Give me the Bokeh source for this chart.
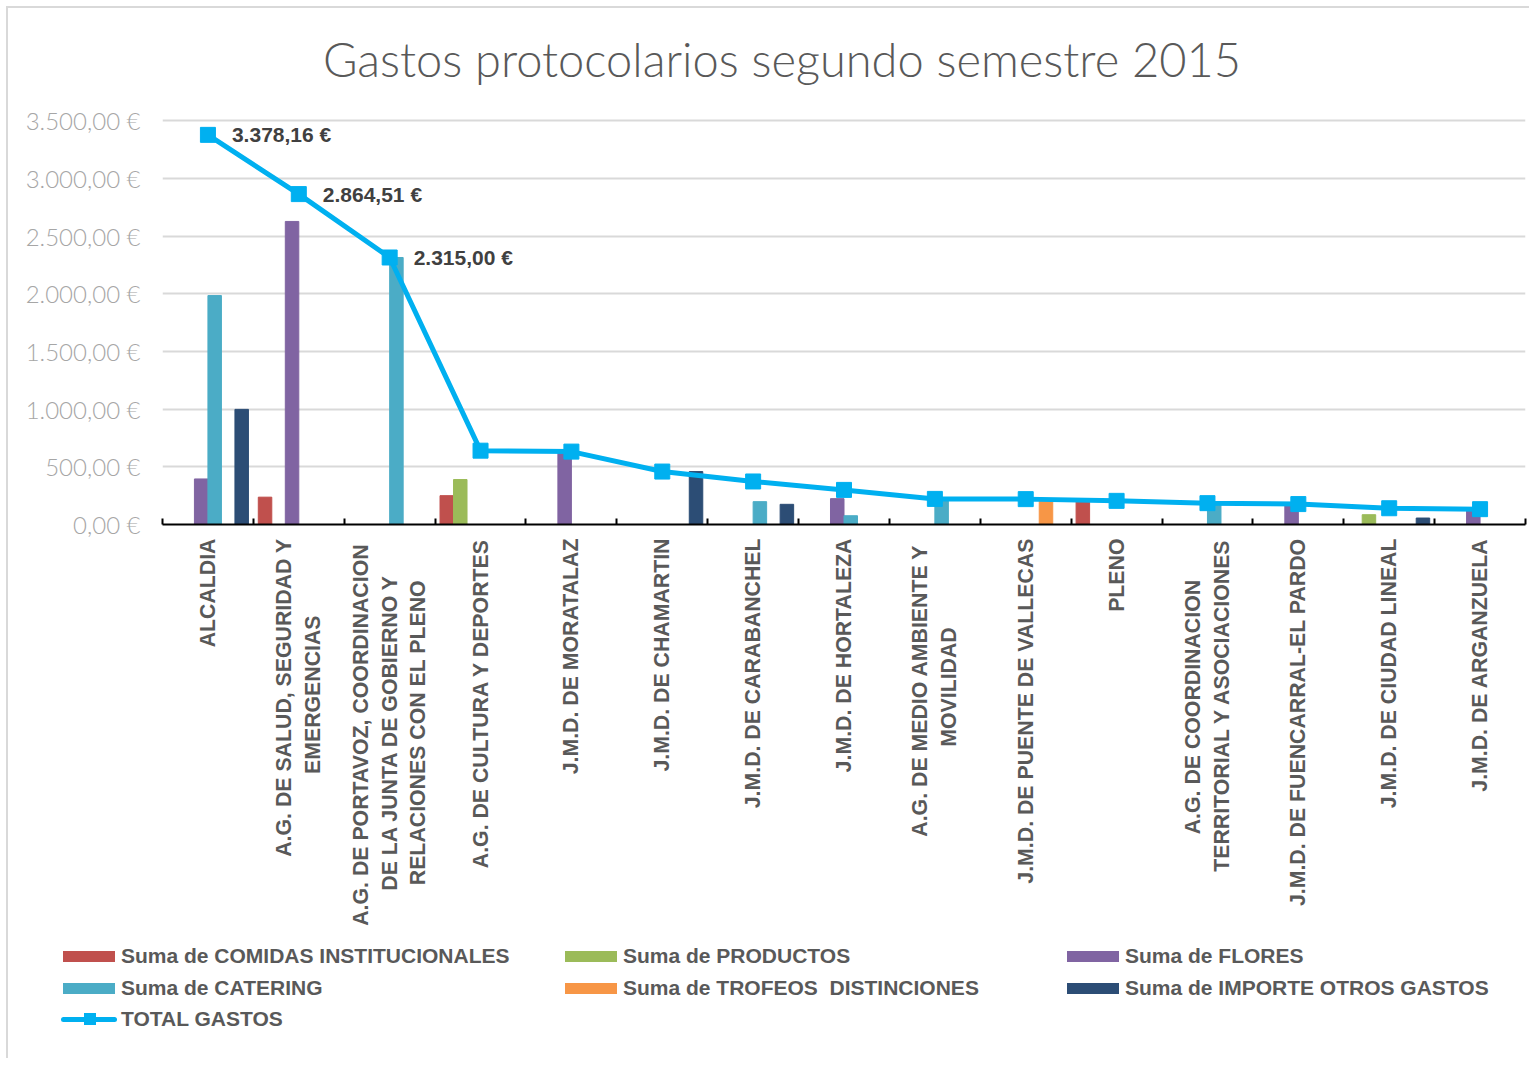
import math
import numpy as np
from bokeh.plotting import figure
from bokeh.layouts import column
from bokeh.models import Range1d, FixedTicker, Div
from bokeh.core.properties import value
from bokeh.embed import file_html
from bokeh.resources import INLINE

# ---------------- data ----------------
categories = [
    "ALCALDIA",
    "A.G. DE SALUD, SEGURIDAD Y\nEMERGENCIAS",
    "A.G. DE PORTAVOZ,  COORDINACION\nDE LA JUNTA DE GOBIERNO Y\nRELACIONES CON EL PLENO",
    "A.G. DE CULTURA Y DEPORTES",
    "J.M.D. DE MORATALAZ",
    "J.M.D. DE CHAMARTIN",
    "J.M.D. DE CARABANCHEL",
    "J.M.D. DE HORTALEZA",
    "A.G.  DE MEDIO AMBIENTE Y\nMOVILIDAD",
    "J.M.D. DE PUENTE DE VALLECAS",
    "PLENO",
    "A.G. DE COORDINACION\nTERRITORIAL Y ASOCIACIONES",
    "J.M.D. DE FUENCARRAL-EL PARDO",
    "J.M.D. DE CIUDAD LINEAL",
    "J.M.D. DE ARGANZUELA",
]

comidas   = [0, 237, 0, 250, 0, 0, 0, 0, 0, 0, 205, 0, 0, 0, 0]
productos = [0, 0, 0, 390, 0, 0, 0, 0, 0, 0, 0, 0, 0, 85, 0]
flores    = [395, 2627.51, 0, 0, 632, 0, 0, 224, 0, 0, 0, 0, 177, 0, 133]
catering  = [1985, 0, 2315, 0, 0, 0, 198, 76, 222, 0, 0, 185, 0, 0, 0]
trofeos   = [0, 0, 0, 0, 0, 0, 0, 0, 0, 220, 0, 0, 0, 0, 0]
otros     = [998.16, 0, 0, 0, 0, 459, 175, 0, 0, 0, 0, 0, 0, 56, 0]
total     = [3378.16, 2864.51, 2315.00, 640, 632, 459, 373, 300, 222, 220, 205, 185, 177, 141, 133]

total_labels = ["3.378,16 €", "2.864,51 €", "2.315,00 €"]

series_names = [
    "Suma de COMIDAS INSTITUCIONALES",
    "Suma de PRODUCTOS",
    "Suma de FLORES",
    "Suma de CATERING",
    "Suma de TROFEOS  DISTINCIONES",
    "Suma de IMPORTE OTROS GASTOS",
]
total_name = "TOTAL GASTOS"

y_ticks = [0, 500, 1000, 1500, 2000, 2500, 3000, 3500]
y_tick_labels = ["0,00 €", "500,00 €", "1.000,00 €", "1.500,00 €",
                 "2.000,00 €", "2.500,00 €", "3.000,00 €", "3.500,00 €"]

title_text = "Gastos protocolarios segundo semestre 2015"

# ---------------- styles ----------------
colors = ["#c0504d", "#9bbb59", "#8064a2", "#4bacc6", "#f79646", "#2c4d75"]
line_color = "#00b0f0"
text_grey = "#595959"
bold_font = value("Liberation Sans")

# approximate Arial-bold advance widths (em) used to centre the lines of the
# multi-line category labels (the axis draws them flush to the axis line)
_w = {" ": .278, ".": .278, ",": .278, "-": .333, "A": .722, "B": .722, "C": .722,
      "D": .722, "E": .667, "F": .611, "G": .778, "H": .722, "I": .278, "J": .556,
      "K": .722, "L": .611, "M": .833, "N": .722, "O": .778, "P": .667, "Q": .778,
      "R": .722, "S": .667, "T": .611, "U": .722, "V": .667, "W": .944, "X": .667,
      "Y": .667, "Z": .611}


def centred(label):
    lines = label.split("\n")
    if len(lines) == 1:
        return label
    widths = [sum(_w.get(ch, .6) for ch in ln) for ln in lines]
    mw = max(widths)
    out = []
    for ln, w in zip(lines, widths):
        pad = int(round((mw - w) / 2 / .278))
        out.append(ln + "\u00a0" * pad)
    return "\n".join(out)


n = len(categories)
centers = np.arange(n) + 0.5
bw = 0.1486

p = figure(width=1521, height=832, output_backend="svg", toolbar_location=None,
           x_range=Range1d(0, n), y_range=Range1d(0, 3520),
           min_border_left=154, min_border_right=4, min_border_top=20,
           min_border_bottom=406, background_fill_color="white",
           border_fill_color="white")
p.outline_line_color = None

# y axis
p.yaxis.ticker = FixedTicker(ticks=y_ticks)
p.yaxis.major_label_overrides = {t: l for t, l in zip(y_ticks, y_tick_labels)}
p.yaxis.axis_line_color = None
p.yaxis.major_tick_line_color = None
p.yaxis.minor_tick_line_color = None
p.yaxis.major_label_text_font = "Lato Light"
p.yaxis.major_label_text_font_size = "24px"
p.yaxis.major_label_text_color = "#a6a6a6"
p.yaxis.major_label_standoff = 16

p.ygrid.ticker = FixedTicker(ticks=y_ticks)
p.ygrid.grid_line_color = "#d9d9d9"
p.ygrid.grid_line_width = 2
p.xgrid.visible = False

# x axis
p.xaxis.ticker = FixedTicker(ticks=list(centers), minor_ticks=list(range(n + 1)))
p.xaxis.major_label_overrides = {float(c): centred(lab) for c, lab in zip(centers, categories)}
p.xaxis.major_label_orientation = math.pi / 2
p.xaxis.axis_line_color = "black"
p.xaxis.axis_line_width = 2
p.xaxis.major_tick_in = 0
p.xaxis.major_tick_out = 0
p.xaxis.minor_tick_in = 6
p.xaxis.minor_tick_out = 0
p.xaxis.minor_tick_line_color = "black"
p.xaxis.minor_tick_line_width = 2
p.xaxis.major_label_text_font = "Liberation Sans"
p.xaxis.major_label_text_font_style = "bold"
p.xaxis.major_label_text_font_size = "21.3px"
p.xaxis.major_label_text_color = text_grey
p.xaxis.major_label_standoff = 14

# bars
all_series = [comidas, productos, flores, catering, trofeos, otros]
for k, (vals, col) in enumerate(zip(all_series, colors)):
    xs = centers + (k - 2.5) * bw
    p.vbar(x=xs, top=vals, bottom=0, width=bw, fill_color=col,
           line_color=col, line_width=1)

# total line
p.line(x=centers, y=total, line_color=line_color, line_width=5)
p.scatter(x=centers, y=total, marker="square", size=15,
          fill_color=line_color, line_color=line_color)

p.text(x=centers[:len(total_labels)], y=total[:len(total_labels)], text=total_labels,
       x_offset=24, text_align="left", text_baseline="middle",
       text_font=bold_font, text_font_style="bold", text_font_size="21px",
       text_color="#404040")

# ---------------- title (HTML strip above the chart) ----------------
title_html = ('<div style="position:relative;width:1521px;height:90px;background:white">'
              '<div style="position:absolute;left:315px;top:28px;white-space:pre;'
              "font-family:'Lato Light','Lato',sans-serif;font-weight:300;font-size:47px;"
              'line-height:47px;color:%s">%s</div></div>' % (text_grey, title_text))
tdiv = Div(text=title_html, width=1521, height=90, margin=0)

# ---------------- legend (HTML strip below the chart) ----------------
col_x = [55, 557, 1059]
row_y = [26, 58, 89]
font_css = ("font-family:'Liberation Sans',Arial,sans-serif;font-weight:bold;"
            "font-size:21px;line-height:24px;color:%s;white-space:pre;" % text_grey)
parts = []
entries = [(nm, ("bar", c)) for nm, c in zip(series_names, colors)] + [(total_name, ("line", line_color))]
for i, (nm, (kind, c)) in enumerate(entries):
    x = col_x[i % 3]
    y = row_y[i // 3]
    if kind == "bar":
        parts.append('<div style="position:absolute;left:%dpx;top:%dpx;width:52px;height:11px;background:%s"></div>'
                     % (x, y - 5, c))
    else:
        parts.append('<div style="position:absolute;left:%dpx;top:%dpx;width:56px;height:5px;border-radius:3px;background:%s"></div>'
                     % (x - 2, y - 2, c))
        parts.append('<div style="position:absolute;left:%dpx;top:%dpx;width:12px;height:12px;background:%s"></div>'
                     % (x + 21, y - 6, c))
    parts.append('<div style="position:absolute;left:%dpx;top:%dpx;%s">%s</div>'
                 % (x + 58, y - 12, font_css, nm))
legend_html = ('<div style="position:relative;width:1521px;height:128px;background:white">'
               + "".join(parts) + "</div>")
lg = Div(text=legend_html, width=1521, height=128, margin=0)

layout = column(tdiv, p, lg, spacing=0,
                styles={"border-left": "2px solid #d9d9d9", "border-top": "2px solid #d9d9d9",
                        "margin-left": "6px", "margin-top": "6px"})

open("out.html", "w").write(file_html(layout, INLINE))
